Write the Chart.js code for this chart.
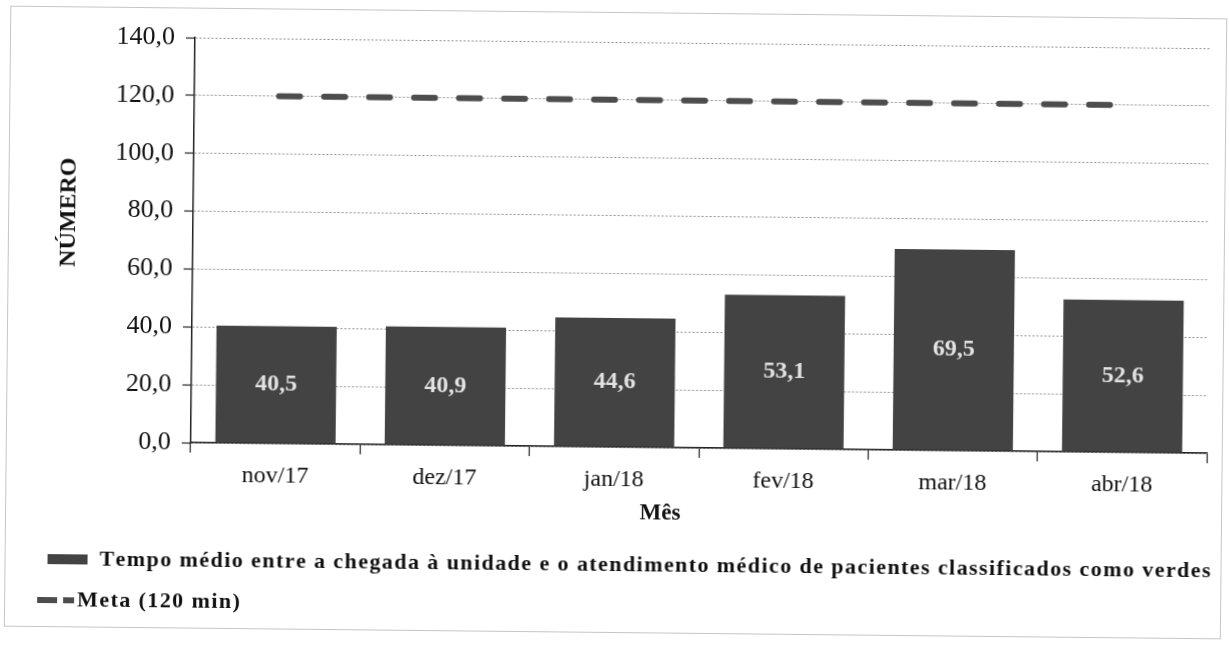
<!DOCTYPE html>
<html>
<head>
<meta charset="utf-8">
<script src="https://cdn.jsdelivr.net/npm/chart.js@4.4.0/dist/chart.umd.min.js"></script>
<style>
  html, body { margin: 0; padding: 0; background: #fff; }
  /* the scanned original is tilted a little clockwise */
  #wrap { width: 1229px; height: 656px; transform: rotate(0.6deg); transform-origin: 614px 328px; }
</style>
</head>
<body>
<div id="wrap"><canvas id="chart" width="1229" height="656"></canvas></div>
<script>
const months = ['nov/17', 'dez/17', 'jan/18', 'fev/18', 'mar/18', 'abr/18'];
const tempoMedio = [40.5, 40.9, 44.6, 53.1, 69.5, 52.6];
const meta = [120, 120, 120, 120, 120, 120];
const yMin = 0, yMax = 140, yStep = 20;

const barLabel = 'Tempo médio entre a chegada à unidade e o atendimento médico de pacientes classificados como verdes';
const metaLabel = 'Meta (120 min)';

const serif = '"Liberation Serif", "Times New Roman", serif';
const barColor = '#434343';
const metaColor = '#4d4d4d';

function comma(v) { return Number(v).toFixed(1).replace('.', ','); }

// draws text char by char so it can be stretched to a given width
function spacedText(ctx, text, x, y, spacing) {
  for (const ch of text) {
    ctx.fillText(ch, x, y);
    x += ctx.measureText(ch).width + spacing;
  }
}

const decor = {
  id: 'decor',
  afterDatasetsDraw(chart) {
    const { ctx } = chart;
    const bars = chart.getDatasetMeta(1).data;
    ctx.save();
    ctx.font = `bold 24px ${serif}`;
    ctx.fillStyle = '#e2e2e2';
    ctx.textAlign = 'center';
    ctx.textBaseline = 'middle';
    bars.forEach((b, i) => {
      ctx.fillText(comma(tempoMedio[i]), b.x, (b.y + b.base) / 2);
    });
    ctx.restore();
  },
  afterDraw(chart) {
    const { ctx } = chart;
    ctx.save();

    // frame
    ctx.strokeStyle = '#8a8a8a';
    ctx.lineWidth = 1;
    ctx.setLineDash([1, 1]);
    ctx.strokeRect(7.5, 12.5, 1216, 620);
    ctx.setLineDash([]);

    // axis titles
    ctx.fillStyle = '#111';
    ctx.textAlign = 'center';
    ctx.textBaseline = 'middle';
    ctx.font = `bold 24px ${serif}`;
    ctx.save();
    ctx.translate(68, 218);
    ctx.rotate(-Math.PI / 2);
    ctx.fillText('NÚMERO', 0, 0);
    ctx.restore();
    ctx.font = `bold 23px ${serif}`;
    ctx.fillText('Mês', 662, 513);

    // legend
    ctx.font = `bold 22px ${serif}`;
    ctx.textAlign = 'left';
    const natural = [...barLabel].reduce((a, ch) => a + ctx.measureText(ch).width, 0);
    const spacing = (1213 - 102 - natural) / (barLabel.length - 1);

    ctx.fillStyle = barColor;
    ctx.fillRect(50, 560, 40, 10);
    ctx.fillStyle = '#111';
    spacedText(ctx, barLabel, 102, 565, spacing);

    ctx.strokeStyle = metaColor;
    ctx.lineWidth = 6;
    ctx.beginPath();
    ctx.moveTo(40, 606); ctx.lineTo(60, 606);
    ctx.moveTo(66, 606); ctx.lineTo(77, 606);
    ctx.stroke();
    spacedText(ctx, metaLabel, 80, 606, spacing);

    ctx.restore();
  }
};

Chart.defaults.animation = false;
Chart.defaults.font.family = serif;

new Chart(document.getElementById('chart'), {
  type: 'bar',
  data: {
    labels: months,
    datasets: [
      {
        type: 'line',
        label: metaLabel,
        data: meta,
        borderColor: metaColor,
        borderWidth: 6,
        borderDash: [21, 24],
        borderCapStyle: 'round',
        pointRadius: 0,
        fill: false,
        order: 0
      },
      {
        label: barLabel,
        data: tempoMedio,
        backgroundColor: barColor,
        borderWidth: 0,
        barPercentage: 0.71,
        categoryPercentage: 1,
        order: 1
      }
    ]
  },
  options: {
    responsive: false,
    layout: { padding: { top: 42, right: 21, bottom: 0, left: 0 } },
    plugins: { legend: { display: false }, tooltip: { enabled: false } },
    scales: {
      x: {
        ticks: { color: '#111', padding: 8, font: { size: 24 } },
        grid: { drawOnChartArea: false, offset: true, tickLength: 10, tickColor: '#222', tickWidth: 1.2 },
        border: { color: '#222', width: 1.5 },
        afterFit: (s) => { s.height = 209; }
      },
      y: {
        min: yMin,
        max: yMax,
        ticks: { stepSize: yStep, padding: 11, color: '#111', font: { size: 26 }, callback: (v) => comma(v) },
        grid: { color: '#909090', lineWidth: 1, tickLength: 9, tickColor: '#222', tickWidth: 1.2, tickBorderDash: [] },
        border: { color: '#222', width: 1.5, dash: [2, 2] },
        afterFit: (s) => { s.width = 192; }
      }
    }
  },
  plugins: [decor]
});
</script>
</body>
</html>
